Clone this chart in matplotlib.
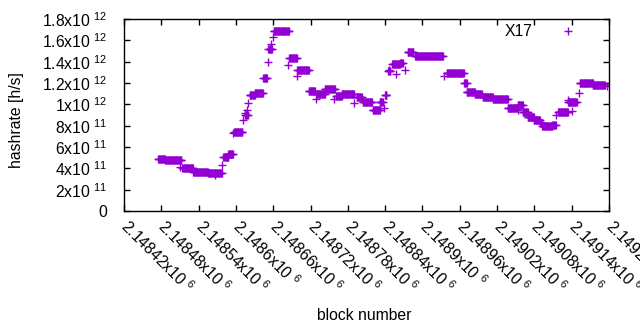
import numpy as np
import matplotlib
matplotlib.use("Agg")
import matplotlib.pyplot as plt
from matplotlib.ticker import FixedLocator, FuncFormatter

plt.rcParams['font.family'] = ['Liberation Sans', 'DejaVu Sans']
plt.rcParams['mathtext.fontset'] = 'custom'
plt.rcParams['mathtext.rm'] = 'Liberation Sans'
plt.rcParams['mathtext.it'] = 'Liberation Sans'
plt.rcParams['mathtext.default'] = 'regular'

# ---- data: runs of constant hashrate (block range, value in h/s) ----
run_start = [2148475, 2148486, 2148514, 2148531, 2148555, 2148580, 2148588, 2148597,
             2148615, 2148622, 2148630, 2148644, 2148652, 2148661, 2148686, 2148699,
             2148717, 2148730, 2148743, 2148761, 2148770, 2148794, 2148804, 2148820,
             2148831, 2148840, 2148845, 2148851, 2148864, 2148876, 2148888, 2148939,
             2148968, 2148971, 2148984, 2148997, 2149013, 2149037, 2149053, 2149061,
             2149069, 2149079, 2149089, 2149093, 2149109, 2149118, 2149134, 2149153,
             2149174]
run_end = [2148486, 2148512, 2148531, 2148555, 2148577, 2148588, 2148595, 2148610,
           2148619, 2148630, 2148643, 2148650, 2148658, 2148685, 2148698, 2148717,
           2148727, 2148743, 2148759, 2148770, 2148790, 2148802, 2148819, 2148831,
           2148836, 2148842, 2148848, 2148864, 2148868, 2148885, 2148933, 2148966,
           2148971, 2148984, 2148995, 2149013, 2149037, 2149053, 2149061, 2149069,
           2149079, 2149089, 2149093, 2149109, 2149114, 2149134, 2149148, 2149174,
           2149193]
run_value = [4.85e11, 4.75e11, 4.00e11, 3.68e11, 3.57e11, 5.05e11, 5.30e11, 7.45e11,
             9.00e11, 1.085e12, 1.11e12, 1.25e12, 1.516e12, 1.685e12, 1.43e12, 1.32e12,
             1.125e12, 1.10e12, 1.14e12, 1.075e12, 1.10e12, 1.07e12, 1.02e12, 9.47e11,
             1.02e12, 1.09e12, 1.31e12, 1.375e12, 1.39e12, 1.49e12, 1.453e12, 1.294e12,
             1.197e12, 1.12e12, 1.094e12, 1.07e12, 1.047e12, 9.70e11, 9.90e11, 9.30e11,
             8.85e11, 8.50e11, 8.25e11, 7.95e11, 8.03e11, 9.32e11, 1.02e12, 1.203e12,
             1.178e12]

# ---- isolated points ----
single_block = [2148510, 2148566, 2148577, 2148595, 2148611, 2148614, 2148619, 2148618,
                2148652, 2148657, 2148660, 2148684, 2148698, 2148728, 2148757, 2148790,
                2148838, 2148841, 2148846, 2148858, 2148872, 2148934, 2148966, 2149053,
                2149114, 2149134, 2149141, 2149152, 2149196]
single_value = [4.15e11, 3.38e11, 4.31e11, 7.28e11, 8.53e11, 9.2e11, 1.01e12, 9.47e11,
                1.394e12, 1.57e12, 1.634e12, 1.369e12, 1.266e12, 1.05e12, 1.047e12, 1.01e12,
                9.68e11, 1.0875e12, 1.32e12, 1.284e12, 1.32e12, 1.266e12, 1.197e12, 9.47e11,
                8.97e11, 1.04e12, 9.375e11, 1.11e12, 1.17e12]

series_label = "X17"
x_ticks = [2148420 + 60 * k for k in range(14)]
y_ticks = [0, 2e11, 4e11, 6e11, 8e11, 1e12, 1.2e12, 1.4e12, 1.6e12, 1.8e12]

# expand runs to one point per block
xs, ys = [], []
for s, e, v in zip(run_start, run_end, run_value):
    b = np.arange(s, e + 1)
    xs.append(b)
    ys.append(np.full(b.shape, v))
xs.append(np.array(single_block))
ys.append(np.array(single_value))
x = np.concatenate(xs)
y = np.concatenate(ys)

W, H = 640, 330
fig = plt.figure(figsize=(W / 100, H / 100), dpi=100)
ax = fig.add_axes([124 / W, 1 - 211 / H, (609 - 124) / W, (211 - 19) / H])

color = '#9400D3'
ax.plot(x, y, linestyle='none', marker='+', markersize=5.6, markeredgewidth=1.0,
        color=color, label=series_label)

ax.set_xlim(2148420, 2149200)
ax.set_ylim(0, 1.8e12)

def sci(v):
    if v == 0:
        return "0"
    e = int(np.floor(np.log10(abs(v)) + 1e-9))
    m = v / 10 ** e
    return "{:g}x10 $^{{{}}}$".format(round(m, 6), e)

ax.xaxis.set_major_locator(FixedLocator(x_ticks))
ax.yaxis.set_major_locator(FixedLocator(y_ticks))
ax.xaxis.set_major_formatter(FuncFormatter(lambda v, p: sci(v)))
ax.yaxis.set_major_formatter(FuncFormatter(lambda v, p: sci(v)))

fs = 11.3
ax.tick_params(axis='both', direction='in', length=4, width=1.0, top=True, right=True,
               labelsize=fs, colors='black')
ax.tick_params(axis='y', pad=12)
ax.tick_params(axis='x', pad=9)
for lab in ax.get_xticklabels():
    lab.set_rotation(-45)
    lab.set_ha('left')
    lab.set_va('center')
    lab.set_rotation_mode('anchor')
for sp in ax.spines.values():
    sp.set_linewidth(1.0)

fig.text(17 / W, 1 - 120.5 / H, "hashrate [h/s]", rotation=90, ha='center', va='center',
         fontsize=fs)
fig.text(364 / W, 1 - 315 / H, "block number", ha='center', va='center', fontsize=fs)

leg = ax.legend(loc='center right', bbox_to_anchor=(590 / W, 1 - 32 / H),
                bbox_transform=fig.transFigure, frameon=False, markerfirst=False,
                borderpad=0, borderaxespad=0, handletextpad=0.8, handlelength=2.85,
                fontsize=fs)

fig.savefig("out.png", dpi=100)
